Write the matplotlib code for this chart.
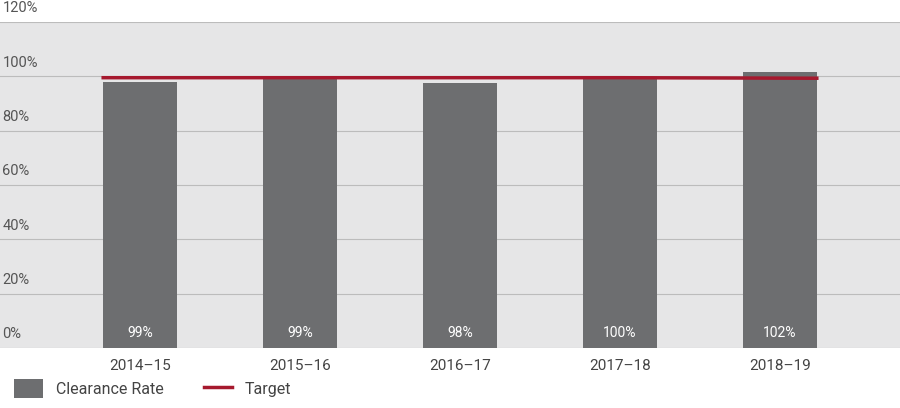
import matplotlib.pyplot as plt
import numpy as np

years = ["2014\u201315", "2015\u201316", "2016\u201317", "2017\u201318", "2018\u201319"]
clearance = [98, 99, 97.5, 99, 101.5]
labels = ["99%", "99%", "98%", "100%", "102%"]
target = [99.5, 99.5, 99.5, 99.5, 99.3]
yticks = [0, 20, 40, 60, 80, 100, 120]

plt.rcParams['font.family'] = ['Roboto', 'DejaVu Sans']
fig = plt.figure(figsize=(9, 4.08), dpi=100)
ax = fig.add_axes([0, 60/408, 1, 1 - 60/408 - 22/408])
ax.set_facecolor('#e6e6e7')

x = np.arange(len(years))
w = 0.46
bars = ax.bar(x, clearance, width=w, color='#6d6e70', zorder=2, label='Clearance Rate')
line, = ax.plot([x[0] - w/2] + list(x[1:-1]) + [x[-1] + w/2], target,
                color='#a6192e', lw=2.5, zorder=3, label='Target')
for xi, t in zip(x, labels):
    ax.text(xi, 3, t, ha='center', va='bottom', color='white', fontsize=10, zorder=4)

ax.set_xlim(-0.875, 4.75)
ax.set_ylim(0, 120)
for v in yticks:
    ax.axhline(v, color='#bcbcbc', lw=0.8, zorder=1)
    ax.text(-0.86, v + 2.5, f"{v}%", ha='left', va='bottom', color='#555555', fontsize=10.5)
ax.set_yticks([])
ax.set_xticks(x)
ax.set_xticklabels(years, color='#444444', fontsize=11)
ax.tick_params(axis='x', length=0, pad=8)
for s in ax.spines.values():
    s.set_visible(False)

fig.legend([bars, line], ['Clearance Rate', 'Target'], loc='lower left',
           bbox_to_anchor=(0.0, -0.01), ncol=2, frameon=False,
           fontsize=11.5, handlelength=1.8, handleheight=1.4, columnspacing=2.5,
           labelcolor='#444444')
fig.savefig('out.png', dpi=100)
